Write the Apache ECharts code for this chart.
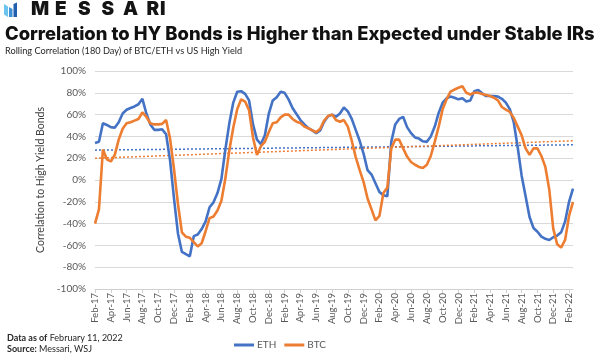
<!DOCTYPE html>
<html><head><meta charset="utf-8">
<script src="https://cdn.jsdelivr.net/npm/echarts@6/dist/echarts.min.js"></script>
<style>html,body{margin:0;padding:0;background:#fff}#c{width:600px;height:360px}</style>
</head><body><div id="c"></div>
<script>
const dates = [
'2017-02-01','2017-02-15','2017-03-01','2017-03-15','2017-04-01','2017-04-15','2017-05-01','2017-05-15','2017-06-01','2017-06-15','2017-07-01','2017-07-15','2017-08-01','2017-08-15','2017-09-01','2017-09-15','2017-10-01','2017-10-15','2017-11-01','2017-11-15','2017-12-01','2017-12-15',
'2018-01-01','2018-01-15','2018-02-01','2018-02-15','2018-03-01','2018-03-15','2018-04-01','2018-04-15','2018-05-01','2018-05-15','2018-06-01','2018-06-15','2018-07-01','2018-07-15','2018-08-01','2018-08-15','2018-09-01','2018-09-15','2018-10-01','2018-10-15','2018-11-01','2018-11-15','2018-12-01','2018-12-15',
'2019-01-01','2019-01-15','2019-02-01','2019-02-15','2019-03-01','2019-03-15','2019-04-01','2019-04-15','2019-05-01','2019-05-15','2019-06-01','2019-06-15','2019-07-01','2019-07-15','2019-08-01','2019-08-15','2019-09-01','2019-09-15','2019-10-01','2019-10-15','2019-11-01','2019-11-15','2019-12-01','2019-12-15',
'2020-01-01','2020-01-15','2020-02-01','2020-02-15','2020-03-01','2020-03-15','2020-04-01','2020-04-15','2020-05-01','2020-05-15','2020-06-01','2020-06-15','2020-07-01','2020-07-15','2020-08-01','2020-08-15','2020-09-01','2020-09-15','2020-10-01','2020-10-15','2020-11-01','2020-11-15','2020-12-01','2020-12-15',
'2021-01-01','2021-01-15','2021-02-01','2021-02-15','2021-03-01','2021-03-15','2021-04-01','2021-04-15','2021-05-01','2021-05-15','2021-06-01','2021-06-15','2021-07-01','2021-07-15','2021-08-01','2021-08-15','2021-09-01','2021-09-15','2021-10-01','2021-10-15','2021-11-01','2021-11-15','2021-12-01','2021-12-15',
'2022-01-01','2022-01-15','2022-02-01','2022-02-11'
];
const tickLabels = [
'Feb-17','Apr-17','Jun-17','Aug-17','Oct-17','Dec-17',
'Feb-18','Apr-18','Jun-18','Aug-18','Oct-18','Dec-18',
'Feb-19','Apr-19','Jun-19','Aug-19','Oct-19','Dec-19',
'Feb-20','Apr-20','Jun-20','Aug-20','Oct-20','Dec-20',
'Feb-21','Apr-21','Jun-21','Aug-21','Oct-21','Dec-21',
'Feb-22'
];
const eth = [
34,35,52,50.5,48.5,48,53,61,64.5,66,67.5,69.5,74.5,61,51,46,46,46.5,42,18,-17,-49,-66,-68,
-70,-51.5,-50,-45,-38,-25,-20.5,-12,1,28,52,71,81,81.5,79,73,51,37,33,41,61,73,76,81,
80,74,66,60.5,55,51,47.5,45.5,43,45.5,53.5,58.5,60,58,61,66.5,63,56,46,36,24,9,5,-3,
-11,-14,-15,35,51,56,58,48.5,43,39,38,35.5,35,40,49,61.5,71,75,76.5,75.5,74,75,72,73,
81.5,82.5,79.5,77,77,77,76.5,74.5,71,65,53,30,4,-15,-34,-44,-47.5,-52,-54,-55,-52.5,-51,-48,-38,
-20,-8
];
const btc = [
-40,-27,28,19,17,23,37,47,52,53,54.5,56,62,58,52,51,51,51.5,55,38,10,-22,-48,-52,
-53,-57,-61,-58,-47,-35,-33.5,-28,-19,1.5,27,48,65,74,72,64,39,23,31,35,44,52,53,57.5,
60,60,56,53.5,52.3,49,47.5,45.5,43.8,47,54.5,58.7,60,55,53.5,55,49,36,21,9,-2,-17,-27,-37,
-33,-12,-7,29,37,37,29,21.5,16.5,14,12,11,14,22,35,49,65,74,81,83,84.6,86,80,78.5,
80,80,79,78,77,75.5,73,67,64.6,62.5,57,49,41,29,23,29,29,22,12,-9,-44.6,-59,-62,-55,
-33,-20
];
const ethTrend = [27.4, 32.3];
const btcTrend = [20, 36];
const seriesNames = ['ETH', 'BTC'];
const logoText = 'MESSARI';
const titleText = 'Correlation to HY Bonds is Higher than Expected under Stable IRs';
const subtitleText = 'Rolling Correlation (180 Day) of BTC/ETH vs US High Yield';
const yAxisTitle = 'Correlation to High Yield Bonds';

const BLUE = '#4472C4', ORANGE = '#ED7D31';
const FONT = 'Lato';
const last = dates.length - 1;

const logoX = [31, 55, 78, 101.5, 123, 146.5, 160];
const letters = logoText.split('').map((ch, i) => ({
  type: 'text', left: logoX[i], top: 0,
  style: { text: ch, font: '900 19px Inter', fill: '#141414' }
}));

const chart = echarts.init(document.getElementById('c'));
chart.setOption({
  animation: false,
  backgroundColor: '#fff',
  grid: { left: 95, right: 27, top: 71, bottom: 71, containLabel: false },
  legend: {
    data: seriesNames, left: 229, top: 335, itemWidth: 20, itemHeight: 3, itemGap: 8,
    icon: 'rect',
    textStyle: { fontFamily: FONT, fontSize: 10, color: '#595959', padding: [0,0,0,-2] }
  },
  xAxis: [{
    type: 'category', data: dates, boundaryGap: false, position: 'bottom',
    axisLine: { show: false }, axisTick: { show: false }, splitLine: { show: false },
    axisLabel: {
      interval: 3, rotate: 90, margin: 4, fontFamily: FONT, fontSize: 9.5, color: '#595959',
      formatter: (v, i) => (i % 4 === 0 ? tickLabels[i / 4] : '')
    }
  }, {
    type: 'category', data: dates, boundaryGap: false, position: 'bottom',
    axisLine: { show: true, onZero: true, lineStyle: { color: '#d0d0d0', width: 1 } },
    axisTick: { show: true, interval: 3, length: 4, lineStyle: { color: '#d0d0d0' } },
    axisLabel: { show: false }, splitLine: { show: false }
  }],
  yAxis: {
    type: 'value', min: -100, max: 100, interval: 20,
    name: yAxisTitle, nameLocation: 'middle', nameGap: 44,
    nameTextStyle: { fontFamily: FONT, fontSize: 10.5, color: '#404040' },
    axisLine: { show: false }, axisTick: { show: false },
    axisLabel: { formatter: '{value}%', margin: 9, fontFamily: FONT, fontSize: 10, color: '#595959' },
    splitLine: { lineStyle: { color: '#d9d9d9', width: 1 } }
  },
  series: [
    { name: 'ETH trend', type: 'line', symbol: 'none', silent: true, z: 1,
      data: [[dates[0], ethTrend[0]], [dates[last], ethTrend[1]]],
      lineStyle: { color: BLUE, width: 1.5, type: [2, 2] } },
    { name: 'BTC trend', type: 'line', symbol: 'none', silent: true, z: 1,
      data: [[dates[0], btcTrend[0]], [dates[last], btcTrend[1]]],
      lineStyle: { color: ORANGE, width: 1.5, type: [2, 2] } },
    { name: 'ETH', type: 'line', symbol: 'none', data: eth, z: 3,
      itemStyle: { color: BLUE }, lineStyle: { color: BLUE, width: 2.6 } },
    { name: 'BTC', type: 'line', symbol: 'none', data: btc, z: 4,
      itemStyle: { color: ORANGE }, lineStyle: { color: ORANGE, width: 2.6 } }
  ],
  graphic: [
    { type: 'polygon', shape: { points: [[4,4],[8,6.5],[8,17],[4,14.5]] }, style: { fill: '#6cc3ee' } },
    { type: 'polygon', shape: { points: [[9,7],[12.5,9],[12.5,17],[9,17]] }, style: { fill: '#3d8fd6' } },
    { type: 'polygon', shape: { points: [[13.5,4],[17,2.5],[17,17],[13.5,17]] }, style: { fill: '#1f5fae' } },
    ...letters,
    { type: 'text', left: 5, top: 25, style: { text: titleText, font: '800 18.4px Inter', fill: '#111' } },
    { type: 'text', left: 5, top: 47, style: { text: subtitleText, font: '9.2px Lato', fill: '#262626' } },
    { type: 'text', left: 7, top: 333, style: {
        text: '{b|Data as of} February 11, 2022\n{b|Source:} Messari, WSJ',
        fontFamily: FONT, fontSize: 9, lineHeight: 11, fill: '#262626',
        rich: { b: { fontWeight: 'bold', fontFamily: FONT, fontSize: 9, fill: '#262626' } } } }
  ]
});
</script></body></html>
